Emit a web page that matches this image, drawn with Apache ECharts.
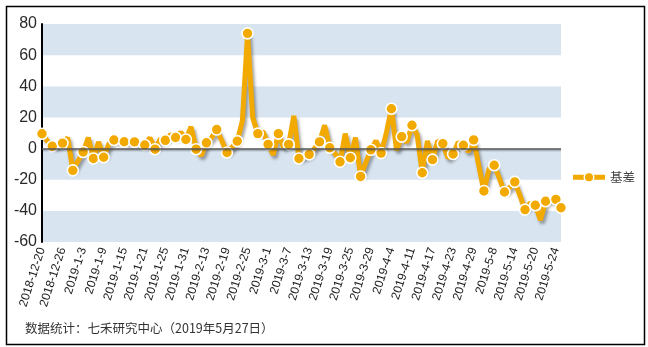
<!DOCTYPE html>
<html>
<head>
<meta charset="utf-8">
<script src="https://cdn.jsdelivr.net/npm/echarts@6/dist/echarts.min.js"></script>
<style>
  html, body { margin: 0; padding: 0; background: #fff; }
  #chart { width: 648px; height: 347px; }
</style>
</head>
<body>
<div id="chart"></div>
<script>
// Trading days (category axis)
const dates = [
  '2018-12-20','2018-12-21','2018-12-24','2018-12-25','2018-12-26','2018-12-27','2018-12-28',
  '2019-1-2','2019-1-3','2019-1-4','2019-1-7','2019-1-8','2019-1-9','2019-1-10','2019-1-11',
  '2019-1-14','2019-1-15','2019-1-16','2019-1-17','2019-1-18','2019-1-21','2019-1-22','2019-1-23',
  '2019-1-24','2019-1-25','2019-1-28','2019-1-29','2019-1-30','2019-1-31','2019-2-1','2019-2-11',
  '2019-2-12','2019-2-13','2019-2-14','2019-2-15','2019-2-18','2019-2-19','2019-2-20','2019-2-21',
  '2019-2-22','2019-2-25','2019-2-26','2019-2-27','2019-2-28','2019-3-1','2019-3-4','2019-3-5',
  '2019-3-6','2019-3-7','2019-3-8','2019-3-11','2019-3-12','2019-3-13','2019-3-14','2019-3-15',
  '2019-3-18','2019-3-19','2019-3-20','2019-3-21','2019-3-22','2019-3-25','2019-3-26','2019-3-27',
  '2019-3-28','2019-3-29','2019-4-1','2019-4-2','2019-4-3','2019-4-4','2019-4-8','2019-4-9',
  '2019-4-10','2019-4-11','2019-4-12','2019-4-15','2019-4-16','2019-4-17','2019-4-18','2019-4-19',
  '2019-4-22','2019-4-23','2019-4-24','2019-4-25','2019-4-26','2019-4-29','2019-4-30','2019-5-6',
  '2019-5-7','2019-5-8','2019-5-9','2019-5-10','2019-5-13','2019-5-14','2019-5-15','2019-5-16',
  '2019-5-17','2019-5-20','2019-5-21','2019-5-22','2019-5-23','2019-5-24','2019-5-27'
];

// 基差
const basis = [
  9.5, 5, 1.5, 2, 3.5, 7, -14, -8, -2.2, 7,
  -6.4, 4.3, -5.6, 3, 5.5, 5, 4.4, 4, 4.3, 3.5,
  2.3, 7, -0.4, 6, 5.3, 9, 7.1, 10.5, 5.8, 14,
  -0.4, -4.5, 3.7, 7, 12.2, 5, -2.5, 1, 4.8, 18,
  74, 20, 9.6, 11, 2.7, -4, 9.6, 1, 2.7, 21,
  -6.4, -5, -3.7, 0, 4.3, 15, 0.5, -3, -8.5, 9.6,
  -5.9, 7, -17.9, -9, -0.8, 5, -2.9, 10, 25.6, -1,
  7.7, 4, 15, 9, -15.5, 5, -7.1, 5, 3.2, -6,
  -3.5, 4, 2.1, -2, 5.6, -11, -27.2, -13, -10.7, -19,
  -27.9, -25, -21.4, -30, -39.2, -35, -36.4, -46, -33.8, -33,
  -32.6, -38
];

const yTicks = { min: -60, max: 80, interval: 20 };
const seriesName = '基差';
const footnote = '数据统计：七禾研究中心（2019年5月27日）';

const orange = '#F2A900';
const band = '#D8E4F0';

const chart = echarts.init(document.getElementById('chart'), null, { renderer: 'canvas' });

chart.setOption({
  animation: false,
  backgroundColor: '#fff',
  textStyle: { fontFamily: 'Liberation Sans, Arial, sans-serif' },
  grid: { left: 42, right: 87, top: 24, bottom: 105, containLabel: false },
  legend: {
    data: [seriesName],
    right: 8,
    top: 166,
    orient: 'vertical',
    itemWidth: 32,
    itemHeight: 12,
    itemGap: 6,
    lineStyle: { width: 5, color: orange },
    itemStyle: { color: orange, borderColor: '#fff', borderWidth: 1.5 },
    textStyle: { fontSize: 12.5, color: '#444', fontFamily: 'Noto Sans CJK SC, sans-serif' }
  },
  xAxis: {
    type: 'category',
    data: dates,
    boundaryGap: false,
    axisLine: { show: false },
    axisTick: { show: false },
    splitLine: { show: false },
    axisLabel: {
      interval: 3,
      rotate: 72,
      margin: 6,
      fontSize: 12,
      color: '#1a1a1a',
      fontFamily: 'Liberation Sans, Arial, sans-serif'
    }
  },
  yAxis: {
    type: 'value',
    min: yTicks.min,
    max: yTicks.max,
    interval: yTicks.interval,
    axisLine: { show: true, onZero: false, lineStyle: { color: '#000', width: 2 } },
    axisTick: { show: false },
    axisLabel: { fontSize: 16, color: '#2a2a2a', margin: 5 },
    splitLine: { show: false },
    splitArea: { show: true, areaStyle: { color: [band, '#ffffff'] } }
  },
  series: [
    {
      // zero reference line, drawn beneath the data line
      type: 'line',
      name: 'zero',
      data: [],
      z: 1,
      silent: true,
      markLine: {
        silent: true,
        symbol: 'none',
        label: { show: false },
        lineStyle: {
          color: '#555', width: 1.5, type: 'solid',
          shadowColor: 'rgba(0,0,0,0.25)', shadowOffsetY: 1.5, shadowBlur: 1
        },
        data: [{ yAxis: 0 }]
      }
    },
    {
      type: 'line',
      name: seriesName,
      data: basis,
      z: 3,
      showSymbol: true,
      showAllSymbol: true,
      symbol: 'circle',
      symbolSize: function (val, params) {
        const i = params.dataIndex;
        return (i % 2 === 0 || i === basis.length - 1) ? 11 : 0;
      },
      itemStyle: { color: orange, borderColor: '#fff', borderWidth: 1.6 },
      lineStyle: {
        color: orange, width: 5,
        shadowColor: 'rgba(60,60,60,0.45)', shadowBlur: 3, shadowOffsetX: 2, shadowOffsetY: 3
      }
    }
  ],
  graphic: [
    {
      type: 'rect',
      left: 4, top: 4,
      shape: { width: 638, height: 338 },
      style: { fill: 'none', stroke: '#000', lineWidth: 1.5 },
      silent: true
    },
    {
      type: 'text',
      left: 25, top: 322,
      style: {
        text: footnote,
        fontSize: 12.5,
        fill: '#333',
        fontFamily: 'Noto Sans CJK SC, Liberation Sans, sans-serif'
      },
      silent: true
    }
  ]
});
</script>
</body>
</html>
